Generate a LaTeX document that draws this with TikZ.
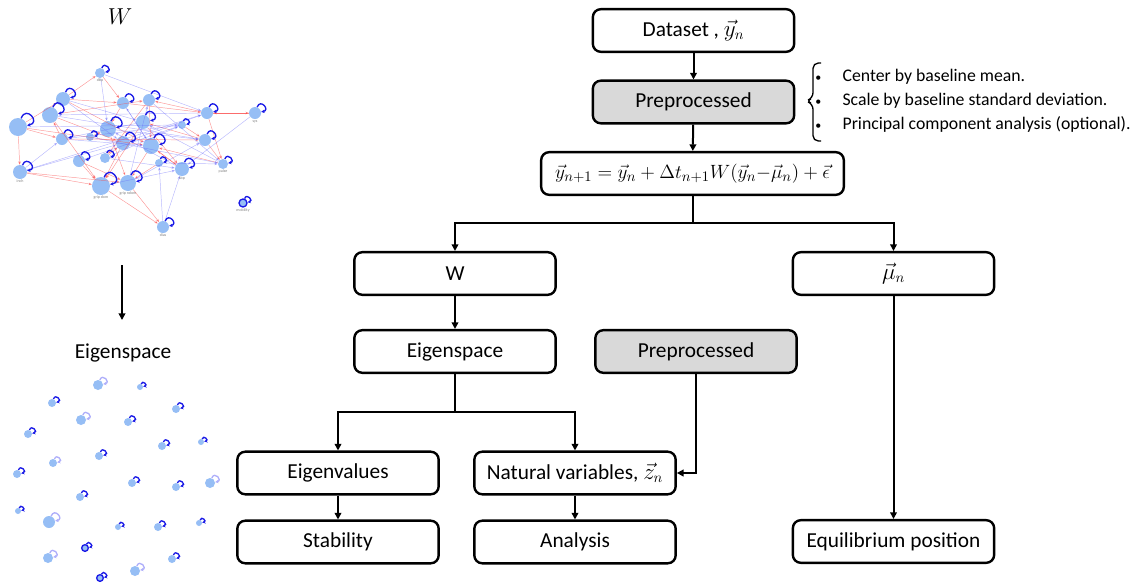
\documentclass[tikz,border=0pt]{standalone}
\usepackage{fontspec}
\setmainfont{Carlito}
\usetikzlibrary{arrows.meta}

\definecolor{boxgrey}{RGB}{217,217,217}
\definecolor{vblue}{RGB}{150,190,245}
\definecolor{loopblue}{RGB}{25,25,230}
\definecolor{lightloop}{RGB}{175,175,250}
\definecolor{edgered}{RGB}{250,70,70}
\definecolor{edgeblue}{RGB}{100,100,250}

\begin{document}
\begin{tikzpicture}[x=0.75pt,y=-0.75pt,
	box/.style={draw,line width=1.8pt,rounded corners=6pt,minimum width=151pt,minimum height=32pt,inner sep=2pt,font=\fontsize{16}{19}\selectfont},
	greybox/.style={box,fill=boxgrey},
	conn/.style={line width=1.5pt,-{Triangle[length=5pt,width=5pt]}},
	trunk/.style={line width=1.5pt},
	vert/.style={circle,fill=vblue,inner sep=0pt},
	selfloop/.style={line width=1pt,-{Stealth[length=2.5pt,width=2.5pt]}},
	redge/.style={draw=edgered,opacity=0.55,line width=0.35pt,-{Stealth[length=2.5pt,width=2pt]}},
	bedge/.style={draw=edgeblue,opacity=0.45,line width=0.35pt,-{Stealth[length=2.5pt,width=2pt]}},
	tinylabel/.style={font=\fontsize{3}{3}\selectfont,text=gray,inner sep=0.5pt,anchor=north}
	]
	\useasboundingbox (0,0) rectangle (1140,586);

	% flow chart
	\node[box] (data) at (693.5,30.5) {Dataset , $\vec{y}_n$};
	\node[greybox] (prep) at (693.5,102) {Preprocessed};
	\node[box,minimum width=227pt,font=\fontsize{15}{18}\selectfont] (model) at (692.5,173.5) {$\vec{y}_{n+1} = \vec{y}_n + \Delta t_{n+1} W(\vec{y}_n{-}\vec{\mu}_n) + \vec{\epsilon}$};
	\node[box] (wmat) at (455,273.5) {W};
	\node[box] (mean) at (893.5,273.5) {$\vec{\mu}_n$};
	\node[box] (eigsp) at (455,351.5) {Eigenspace};
	\node[greybox] (prepb) at (696,351.5) {Preprocessed};
	\node[box] (eigval) at (338,473) {Eigenvalues};
	\node[box] (natvar) at (575,473) {Natural variables, $\vec{z}_n$};
	\node[box] (stab) at (338,542) {Stability};
	\node[box] (anal) at (575,542) {Analysis};
	\node[box] (equil) at (893.5,541.5) {Equilibrium position};

	\draw[conn] (data) -- (prep);
	\draw[conn] (prep) -- (model);
	\draw[trunk] (model.south) -- ++(0,27) coordinate (split);
	\draw[conn] (split) -| (wmat);
	\draw[conn] (split) -| (mean);
	\draw[conn] (wmat) -- (eigsp);
	\draw[trunk] (eigsp.south) -- ++(0,38) coordinate (fork);
	\draw[conn] (fork) -| (eigval);
	\draw[conn] (fork) -| (natvar);
	\draw[conn] (prepb) |- (natvar);
	\draw[conn] (eigval) -- (stab);
	\draw[conn] (natvar) -- (anal);
	\draw[conn] (mean) -- (equil);

	% preprocessing steps
	\draw[line width=1pt,rounded corners=4pt] (821,63) -- (813,63) -- (813,98) -- (806,101) -- (813,104) -- (813,141) -- (821,141);
	\node[anchor=west,inner sep=0pt,font=\fontsize{13.3}{18}\selectfont] (steps) at (815,101) {%
		\begin{tabular}{@{}l@{\hskip 16pt}l@{}}
			{\fontsize{9}{9}\selectfont\textbullet} & Center by baseline mean.\\
			{\fontsize{9}{9}\selectfont\textbullet} & Scale by baseline standard deviation.\\
			{\fontsize{9}{9}\selectfont\textbullet} & Principal component analysis (optional).
		\end{tabular}};

	% network of W
	\node[font=\fontsize{17}{20}\selectfont] (wtitle) at (120,17) {$W$};
	\foreach \n/\x/\y/\r in {1/100/73/5,2/63/99/7,3/50/115/8,4/18/127/9,5/123/103/6,6/149/100/6,
		7/143/122/7,8/108/129/8,9/62/139/6,10/90/137/4,11/123/143/7,12/151/146/8,13/182/125/4,
		14/207/113/6,15/205/140/6,16/255/113/6,17/20/172/7,18/79/161/6,19/105/158/5,20/159/163/4,
		21/182/169/7,22/223/164/5,23/101/186/9,24/128/183/8,26/163/227/6}
		\node[vert,minimum size=\r*1.5pt] (w\n) at (\x,\y) {};
	\node[vert,draw=loopblue,line width=1pt,minimum size=6pt] (w25) at (243,203) {};
	\foreach \a/\b in {2/1,4/2,3/6,4/17,17/23,17/24,23/26,24/26,14/16,14/6,14/22,15/22,9/3,2/12,8/24,
		7/21,11/23,12/21,5/14,3/23,4/12,18/24,13/15,6/12,9/15,1/5,10/8,19/11,20/24,16/14,5/8,
		7/23,12/24,6/19,4/9,3/11,21/12,15/7,22/12,2/5,18/23}
		\draw[redge] (w\a) -- (w\b);
	\foreach \a/\b in {1/14,16/21,26/20,26/21,17/9,17/11,17/14,3/15,4/13,2/7,5/12,10/22,18/13,19/21,
		6/22,9/12,8/15,11/14,20/22,23/21,7/9,1/8,19/13,2/11,24/15,21/8,12/5,14/3,22/7,13/9,24/6}
		\draw[bedge] (w\a) -- (w\b);
	\foreach \n/\r in {1/5,2/7,3/8,4/9,5/6,6/6,7/7,8/8,9/6,10/4,11/7,12/8,13/4,14/6,15/6,16/6,17/7,
		18/6,19/5,20/4,21/7,22/5,23/9,24/8,25/4,26/6}
		\draw[selfloop,loopblue] (w\n.70) to[out=70,in=10,looseness=1,min distance=\r*1.2pt] (w\n.10);
	\foreach \n/\t in {1/dbp,16/sys,17/inch,22/pulse,23/grip dom,24/grip ndom,25/mobility,26/dias,21/sbp}
		\node[tinylabel] (l\n) at (w\n.south) {\t};

	\coordinate (wdown) at (122,265);
	\coordinate (eigdown) at (122,320);
	\draw[conn] (wdown) -- (eigdown);

	% eigenspace network
	\node[font=\fontsize{16}{19}\selectfont] (etitle) at (123,353) {Eigenspace};
	\foreach \n/\x/\y/\r/\c in {1/98/385/5/lightloop,2/140/387/3/loopblue,3/52/403/4/loopblue,
		4/81/420/5/lightloop,5/128/422/4/loopblue,6/176/409/4/loopblue,7/28/434/4/loopblue,
		8/162/446/4/loopblue,9/201/442/3/loopblue,10/99/456/4/loopblue,11/53/463/4/lightloop,
		12/17/474/4/loopblue,13/132/483/4/loopblue,14/176/487/4/loopblue,15/210/483/5/lightloop,
		16/80/497/4/loopblue,17/18/511/3/loopblue,18/49/522/6/lightloop,19/118/527/3/loopblue,
		20/158/527/4/loopblue,21/199/523/3/loopblue,23/48/558/5/lightloop,24/172/559/4/loopblue,
		25/135/571/5/lightloop}{
		\node[vert,minimum size=\r*1.5pt] (e\n) at (\x,\y) {};
		\draw[selfloop,\c] (e\n.70) to[out=70,in=10,looseness=1,min distance=\r*1.2pt] (e\n.10);
	}
	\foreach \n/\x/\y in {22/85/548,26/100/578}{
		\node[vert,draw=loopblue,line width=1pt,minimum size=5pt] (e\n) at (\x,\y) {};
		\draw[selfloop,loopblue] (e\n.70) to[out=70,in=10,looseness=1,min distance=4pt] (e\n.10);
	}
\end{tikzpicture}
\end{document}
